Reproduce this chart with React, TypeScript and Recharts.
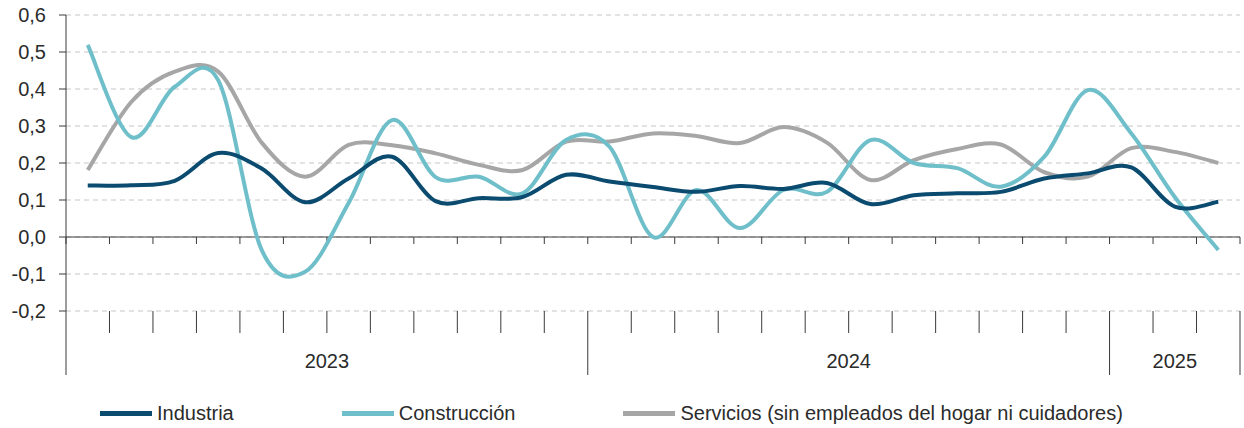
import React from 'react';
import {
    LineChart,
    Line,
    XAxis,
    YAxis,
    CartesianGrid,
    ReferenceLine
} from 'recharts';

// monthly values, Jan 2023 .. Mar 2025
const industria = [0.139, 0.14, 0.152, 0.227, 0.185, 0.094, 0.158, 0.217, 0.097, 0.105, 0.108, 0.168, 0.15, 0.135, 0.122, 0.138, 0.13, 0.146, 0.089, 0.113, 0.118, 0.122, 0.158, 0.172, 0.188, 0.082, 0.095];
const construccion = [0.519, 0.27, 0.406, 0.424, -0.035, -0.094, 0.092, 0.316, 0.162, 0.163, 0.118, 0.262, 0.244, 0.0, 0.127, 0.024, 0.127, 0.122, 0.262, 0.2, 0.186, 0.136, 0.217, 0.397, 0.28, 0.108, -0.035];
const servicios = [0.181, 0.365, 0.447, 0.447, 0.255, 0.163, 0.249, 0.248, 0.226, 0.195, 0.181, 0.258, 0.258, 0.28, 0.273, 0.254, 0.297, 0.255, 0.154, 0.208, 0.238, 0.25, 0.175, 0.163, 0.24, 0.23, 0.2];

const years = ['2023', '2024', '2025'];
const yearMonths = [12, 12, 3];
const yTicks = [-0.2, -0.1, 0, 0.1, 0.2, 0.3, 0.4, 0.5, 0.6];

const SERIES = [
    { key: 'industria', name: 'Industria', color: '#0B4B70' },
    { key: 'construccion', name: 'Construcción', color: '#6FBFCA' },
    { key: 'servicios', name: 'Servicios (sin empleados del hogar ni cuidadores)', color: '#A6A6A6' }
];

const FONT = '"Liberation Sans", Arial, sans-serif';
const TEXT = '#2b2b2b';
const AXIS = '#3a3a3a';

const data = industria.map((v, i) => ({
    x: i + 0.5,
    industria: v,
    construccion: construccion[i],
    servicios: servicios[i]
}));

const nMonths = industria.length;
const monthTicks = Array.from({ length: nMonths + 1 }, (_, i) => i);

// year boundaries and year label positions
const yearStarts: number[] = [0];
const yearCenters: number[] = [];
yearMonths.forEach((m, i) => {
    yearCenters.push(yearStarts[i] + m / 2);
    yearStarts.push(yearStarts[i] + m);
});

// Excel-like smoothed line (Catmull-Rom through the points)
const smoothCurve = (context: any) => {
    let pts: number[][] = [];
    return {
        areaStart() {},
        areaEnd() {},
        lineStart() { pts = []; },
        point(x: number, y: number) { pts.push([+x, +y]); },
        lineEnd() {
            if (!pts.length) return;
            context.moveTo(pts[0][0], pts[0][1]);
            for (let i = 0; i < pts.length - 1; i++) {
                const p0 = pts[i - 1] || pts[i];
                const p1 = pts[i];
                const p2 = pts[i + 1];
                const p3 = pts[i + 2] || p2;
                context.bezierCurveTo(
                    p1[0] + (p2[0] - p0[0]) / 6, p1[1] + (p2[1] - p0[1]) / 6,
                    p2[0] - (p3[0] - p1[0]) / 6, p2[1] - (p3[1] - p1[1]) / 6,
                    p2[0], p2[1]
                );
            }
        }
    };
};

const MonthTick = (props: any) => {
    const { x, y, payload } = props;
    const isYear = yearStarts.includes(payload.value);
    return (
        <line x1={x} x2={x} y1={y} y2={y + (isYear ? 64 : 22)} stroke={AXIS} strokeWidth={1} />
    );
};

const YearTick = (props: any) => {
    const { x, y, payload } = props;
    const idx = yearCenters.indexOf(payload.value);
    return (
        <text x={x} y={y + 17} textAnchor="middle" fontSize={20} fontFamily={FONT} fill={TEXT}>
            {years[idx]}
        </text>
    );
};

const fmt = (v: number) => v.toFixed(1).replace('.', ',');

export default function App() {
    return (
        <div style={{ position: 'absolute', left: 0, top: 0, width: 1244, height: 428, background: '#fff' }}>
            <LineChart width={1244} height={428} data={data} margin={{ top: 15, right: 4, left: 0, bottom: 0 }}>
                <CartesianGrid vertical={false} stroke="#c6c6c6" strokeDasharray="5 4" />
                <XAxis
                    xAxisId="m"
                    dataKey="x"
                    type="number"
                    domain={[0, nMonths]}
                    ticks={monthTicks}
                    interval={0}
                    axisLine={false}
                    tickLine={false}
                    tickSize={0}
                    tickMargin={0}
                    height={40}
                    tick={<MonthTick />}
                />
                <XAxis
                    xAxisId="y"
                    dataKey="x"
                    type="number"
                    domain={[0, nMonths]}
                    ticks={yearCenters}
                    interval={0}
                    axisLine={false}
                    tickLine={false}
                    tickSize={0}
                    tickMargin={0}
                    height={77}
                    tick={<YearTick />}
                />
                <YAxis
                    domain={[-0.2, 0.6]}
                    ticks={yTicks}
                    interval={0}
                    width={66}
                    tickFormatter={fmt}
                    axisLine={{ stroke: AXIS }}
                    tickLine={{ stroke: AXIS }}
                    tickSize={7}
                    tickMargin={13}
                    tick={{ fill: TEXT, fontSize: 20, fontFamily: FONT }}
                />
                <ReferenceLine xAxisId="m" y={0} stroke={AXIS} strokeWidth={1} />
                {monthTicks.map(k => (
                    <ReferenceLine
                        key={`zt-${k}`}
                        xAxisId="m"
                        segment={[{ x: k, y: 0 }, { x: k, y: -0.019 }]}
                        stroke={AXIS}
                        strokeWidth={1}
                    />
                ))}
                {SERIES.slice().reverse().map(s => (
                    <Line
                        key={s.key}
                        xAxisId="m"
                        dataKey={s.key}
                        name={s.name}
                        type={smoothCurve as any}
                        stroke={s.color}
                        strokeWidth={4}
                        dot={false}
                        activeDot={false}
                        isAnimationActive={false}
                    />
                ))}
            </LineChart>
            <div
                style={{
                    position: 'absolute',
                    left: 100,
                    top: 402,
                    display: 'flex',
                    alignItems: 'center',
                    fontFamily: FONT,
                    fontSize: 20,
                    color: TEXT,
                    whiteSpace: 'nowrap'
                }}
            >
                {SERIES.map(s => (
                    <div key={s.key} style={{ display: 'flex', alignItems: 'center', marginRight: 108 }}>
                        <span style={{ display: 'inline-block', width: 52, height: 5, background: s.color, marginRight: 5 }} />
                        <span>{s.name}</span>
                    </div>
                ))}
            </div>
        </div>
    );
}
